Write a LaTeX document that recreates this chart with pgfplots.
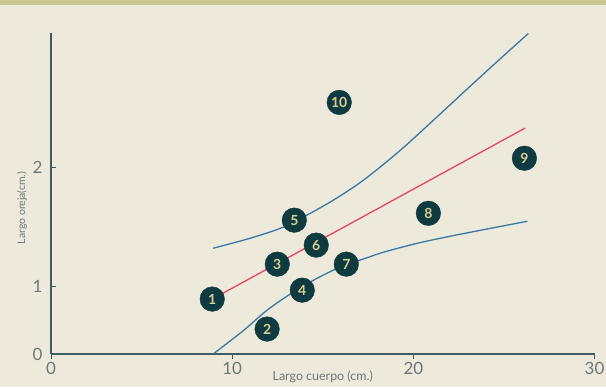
\documentclass[border=0pt]{standalone}
\usepackage{pgfplots}
\pgfplotsset{compat=1.18}
\usepackage{fontspec}
\setmainfont{Lato}
\definecolor{bg}{HTML}{EDEADB}
\definecolor{band}{HTML}{C9C690}
\definecolor{axc}{HTML}{3F5B5E}
\definecolor{dot}{HTML}{0F3A40}
\definecolor{num}{HTML}{D9CF92}
\definecolor{redl}{HTML}{E8445C}
\definecolor{bluel}{HTML}{3A77A6}
\definecolor{lab}{HTML}{6E7879}
\begin{document}
\begin{tikzpicture}[x=1bp,y=1bp]
\fill[bg] (0,0) rectangle (606,387);
\fill[band] (0,382) rectangle (606,387);
\useasboundingbox (0,0) rectangle (606,387);
\begin{axis}[
  at={(51bp,33bp)}, anchor=south west,
  scale only axis, width=543.5bp, height=321bp,
  xmin=0, xmax=30, ymin=0.429, ymax=3.13,
  axis lines=left,
  axis line style={axc, line width=1.2bp, -},
  xtick={0,10,20,30},
  ytick={0.429,1,2}, yticklabels={0,1,2},
  /pgf/number format/assume math mode=true,
  tick align=outside,
  major tick length=5bp,
  tick style={axc, line width=1bp},
  y tick style={xshift=5bp},
  ticklabel style={font=\fontsize{17}{17}\selectfont, color=lab},
  xlabel={Largo cuerpo (cm.)},
  ylabel={Largo oreja(cm.)},
  xlabel style={at={(axis description cs:0.5,0)}, anchor=center, yshift=-23bp, font=\fontsize{12.5}{12.5}\selectfont, color=lab},
  ylabel style={at={(axis description cs:0,0.455)}, anchor=center, yshift=29bp, font=\fontsize{10.5}{10.5}\selectfont, color=lab},
  clip=false,
]
\addplot[bluel, line width=1.3bp, smooth] coordinates {
(8.95,1.319) (10.99,1.403) (12.82,1.496) (14.31,1.613) (15.58,1.723) (17.24,1.891) (19.28,2.143) (21.10,2.395) (22.98,2.660) (24.81,2.915) (26.35,3.126)
};
\addplot[bluel, line width=1.3bp, smooth] coordinates {
(8.95,0.429) (10.61,0.625) (11.93,0.798) (13.37,0.950) (14.70,1.067) (15.97,1.160) (17.46,1.240) (18.45,1.290) (20.20,1.360) (21.88,1.415) (23.70,1.470) (26.30,1.546)
};
\addplot[redl, line width=1.3bp] coordinates {(8.9,0.891) (26.17,2.330)};
\addplot[only marks, mark=*, mark size=12.3bp, mark options={fill=dot, draw=dot},
  nodes near coords, point meta=explicit symbolic,
  every node near coord/.append style={anchor=center, font=\bfseries\fontsize{14}{14}\selectfont, color=num}]
  table[meta=label] {
x y label
8.90 0.891 1
11.93 0.639 2
12.49 1.185 3
13.87 0.966 4
13.43 1.555 5
14.64 1.345 6
16.30 1.185 7
20.83 1.613 8
26.13 2.076 9
15.91 2.546 10
};
\end{axis}
\end{tikzpicture}
\end{document}
